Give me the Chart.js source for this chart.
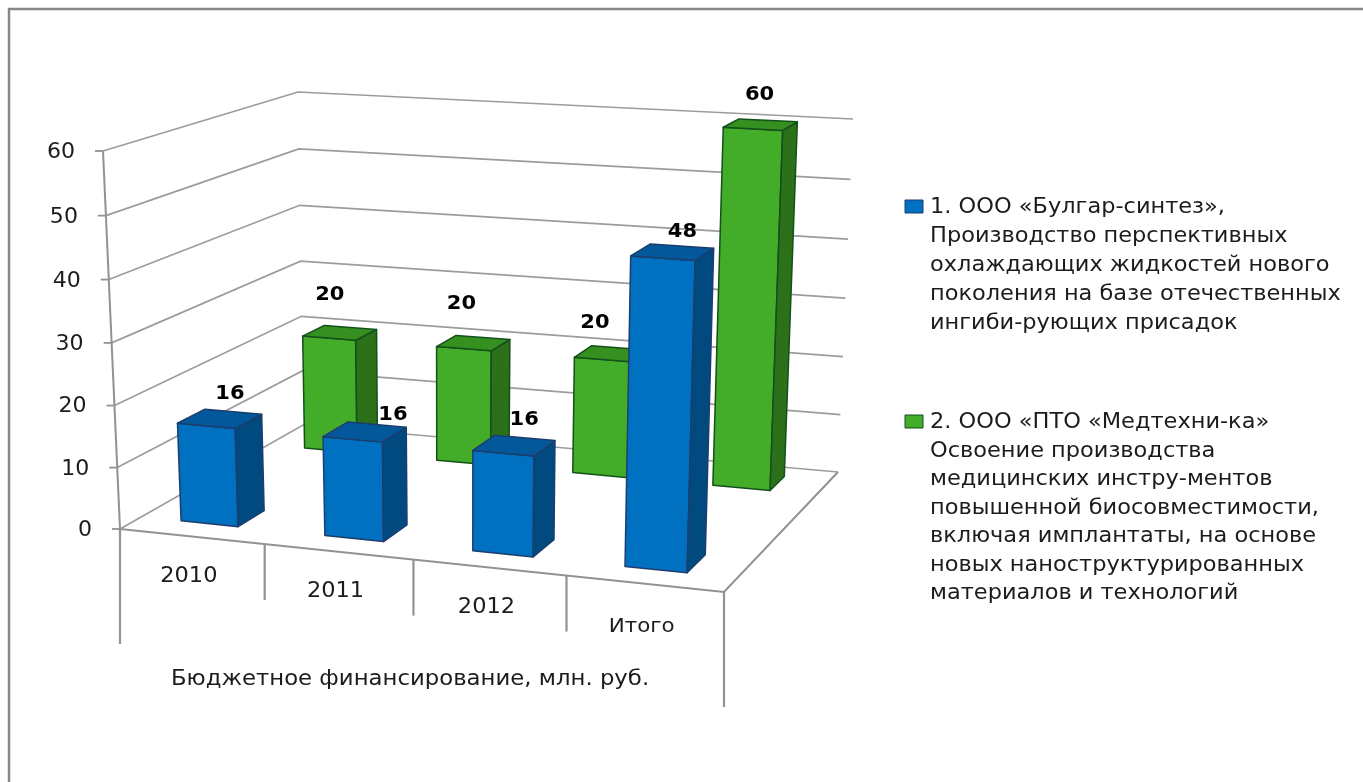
<!DOCTYPE html>
<html>
<head>
<meta charset="utf-8">
<title>Бюджетное финансирование</title>
<script src="https://cdn.jsdelivr.net/npm/chart.js@4"></script>
<style>
  html, body { margin: 0; padding: 0; background: #fff; }
  #wrap { width: 1363px; height: 782px; position: relative; }
</style>
</head>
<body>
<div id="wrap"><canvas id="budgetChart" width="1363" height="782"></canvas></div>
<script>
const categories = ['2010', '2011', '2012', 'Итого'];
const bulgarValues = [16, 16, 16, 48];
const medtechValues = [20, 20, 20, 60];
const axisTitle = 'Бюджетное финансирование, млн. руб.';
const bulgarLegend = [
  '1. ООО «Булгар-синтез»,',
  'Производство перспективных',
  'охлаждающих жидкостей нового',
  'поколения на базе отечественных',
  'ингиби-рующих присадок'
];
const medtechLegend = [
  '2. ООО «ПТО «Медтехни-ка»',
  'Освоение производства',
  'медицинских инстру-ментов',
  'повышенной биосовместимости,',
  'включая имплантаты, на основе',
  'новых наноструктурированных',
  'материалов и технологий'
];

const FONT = '"DejaVu Sans", Verdana, sans-serif';
const GRID = '#9c9c9c';
const AXIS = '#929292';
const TEXT = '#1c1c1c';
const STRETCH = 1.07; // the picture's text is wider than the font
const BAR_SHIFT = -0.005;

// box of the 3d plot on the page: [x, y, weight], weight gives the perspective
const box = {
  frontLeft0: [120, 529, 1], frontRight0: [724, 592, 0.945],
  backLeft0: [303, 425, 1.135], backRight0: [838, 472, 1.07],
  frontLeft1: [103, 151, 0.97], frontRight1: [736, 192, 0.917],
  backLeft1: [298, 92, 1.1], backRight1: [853, 119, 1.038]
};

// u along categories, v up the value axis, w into the picture, all 0..1
function project(u, v, w) {
  const corners = [
    [box.frontLeft0, (1 - u) * (1 - v) * (1 - w)],
    [box.frontRight0, u * (1 - v) * (1 - w)],
    [box.backLeft0, (1 - u) * (1 - v) * w],
    [box.backRight0, u * (1 - v) * w],
    [box.frontLeft1, (1 - u) * v * (1 - w)],
    [box.frontRight1, u * v * (1 - w)],
    [box.backLeft1, (1 - u) * v * w],
    [box.backRight1, u * v * w]
  ];
  let x = 0, y = 0, sum = 0;
  corners.forEach(([c, k]) => {
    x += c[0] * c[2] * k;
    y += c[1] * c[2] * k;
    sum += c[2] * k;
  });
  return [x / sum, y / sum];
}

function line(ctx, pts, color, width) {
  ctx.beginPath();
  pts.forEach((p, i) => i ? ctx.lineTo(p[0], p[1]) : ctx.moveTo(p[0], p[1]));
  ctx.strokeStyle = color;
  ctx.lineWidth = width;
  ctx.stroke();
}

function face(ctx, pts, fill, edge) {
  ctx.beginPath();
  pts.forEach((p, i) => i ? ctx.lineTo(p[0], p[1]) : ctx.moveTo(p[0], p[1]));
  ctx.closePath();
  ctx.fillStyle = fill;
  ctx.fill();
  ctx.strokeStyle = edge;
  ctx.lineWidth = 1.5;
  ctx.lineJoin = 'round';
  ctx.stroke();
}

function wideText(ctx, text, x, y, stretch) {
  ctx.save();
  ctx.translate(x, y);
  ctx.scale(stretch, 1);
  ctx.fillText(text, 0, 0);
  ctx.restore();
}

// depth of each row on the floor, colours of the faces, nudges of the value labels
const rows = [
  { depth: [0.105, 0.245], front: '#0070c0', top: '#02589a', side: '#014a80', edge: '#1c3d6e',
    nudge: [[10, -24.5], [28, -17.5], [10, -25.5], [10, -20]] },
  { depth: [0.79, 0.92], front: '#43ad2a', top: '#35901f', side: '#2c7019', edge: '#14501a',
    nudge: [[-10, -38], [-12, -39.5], [-16, -30.5], [-1, -30]] }
];

const plot3d = {
  id: 'plot3d',
  beforeDraw: (chart) => {
    const { ctx, scales: { x, y } } = chart;
    ctx.save();
    line(ctx, [[9, 782], [9, 9], [1363, 9]], '#868686', 2.5);

    // walls, floor and the value axis labels
    ctx.fillStyle = TEXT;
    ctx.textBaseline = 'middle';
    y.ticks.forEach(t => {
      const v = (y.bottom - y.getPixelForValue(t.value)) / y.height;
      const a = project(0, v, 0);
      line(ctx, [a, project(0, v, 1), project(1, v, 1)], GRID, 1.7);
      line(ctx, [[a[0] - 8, a[1]], a], AXIS, 1.8);
      ctx.font = '21px ' + FONT;
      ctx.textAlign = 'right';
      wideText(ctx, t.label, a[0] - 28, a[1] + 1.5, 1.05);
    });
    line(ctx, [project(0, 0, 0), project(0, 1, 0)], AXIS, 2);
    line(ctx, [project(0, 0, 0), project(1, 0, 0), project(1, 0, 1)], AXIS, 2);

    // category labels and separators under the front edge
    ctx.textAlign = 'center';
    categories.forEach((c, i) => {
      const u = (x.getPixelForValue(i) - x.left) / x.width;
      const p = project(u, 0, 0);
      ctx.font = (i === 3 ? '20px ' : '21px ') + FONT;
      wideText(ctx, c, p[0] - 3, p[1] + (i === 3 ? 43 : 40), STRETCH);
    });
    for (let i = 0; i <= categories.length; i++) {
      const p = project(i / categories.length, 0, 0);
      const long = i === 0 || i === categories.length;
      line(ctx, [p, [p[0], p[1] + (long ? 115 : 56)]], AXIS, 2.2);
    }
    ctx.font = '21px ' + FONT;
    wideText(ctx, axisTitle, 410, 680, 1.085);
    ctx.restore();
  },
  beforeDatasetsDraw: (chart) => {
    const { ctx, scales: { x, y } } = chart;
    const labels = [];
    ctx.save();
    // back row first, the blue one stands in front of it
    [1, 0].forEach(d => {
      const row = rows[d];
      chart.getDatasetMeta(d).data.forEach((bar, i) => {
        const u0 = (bar.x - bar.width / 2 - x.left) / x.width + BAR_SHIFT;
        const u1 = (bar.x + bar.width / 2 - x.left) / x.width + BAR_SHIFT;
        const v = (y.bottom - bar.y) / y.height;
        const [w0, w1] = row.depth;
        const fb = project(u1, 0, w0), ft = project(u1, v, w0);
        face(ctx, [project(u0, 0, w0), fb, ft, project(u0, v, w0)], row.front, row.edge);
        face(ctx, [fb, project(u1, 0, w1), project(u1, v, w1), ft], row.side, row.edge);
        face(ctx, [project(u0, v, w0), ft, project(u1, v, w1), project(u0, v, w1)], row.top, row.edge);
        const c = project((u0 + u1) / 2, v, (w0 + w1) / 2);
        labels.push([chart.data.datasets[d].data[i], c[0] + row.nudge[i][0], c[1] + row.nudge[i][1]]);
      });
    });
    ctx.font = 'bold 20px ' + FONT;
    ctx.fillStyle = '#000';
    ctx.textAlign = 'center';
    ctx.textBaseline = 'middle';
    labels.forEach(l => wideText(ctx, l[0], l[1], l[2], 1.05));

    // legend
    ctx.textAlign = 'left';
    ctx.textBaseline = 'alphabetic';
    ctx.font = '21px ' + FONT;
    [[bulgarLegend, 213, 29, 0], [medtechLegend, 428, 28.5, 1]].forEach(([text, top, step, d]) => {
      ctx.fillStyle = rows[d].front;
      ctx.strokeStyle = rows[d].edge;
      ctx.lineWidth = 1;
      ctx.fillRect(905, top - 13, 18, 13);
      ctx.strokeRect(905, top - 13, 18, 13);
      ctx.fillStyle = TEXT;
      text.forEach((t, i) => wideText(ctx, t, 930, top + i * step, STRETCH));
    });
    ctx.restore();
    return false; // bars are already drawn in 3d
  }
};

new Chart(document.getElementById('budgetChart'), {
  type: 'bar',
  data: {
    labels: categories,
    datasets: [
      { label: bulgarLegend[0], data: bulgarValues, backgroundColor: '#0070c0' },
      { label: medtechLegend[0], data: medtechValues, backgroundColor: '#43ad2a' }
    ]
  },
  plugins: [plot3d],
  options: {
    responsive: false,
    animation: false,
    layout: { padding: { top: 151, bottom: 253, right: 639, left: 0 } },
    datasets: { bar: { grouped: false, categoryPercentage: 1, barPercentage: 0.4 } },
    plugins: { legend: { display: false }, tooltip: { enabled: false } },
    scales: {
      x: { display: false },
      y: {
        min: 0,
        max: 60,
        afterFit: (s) => { s.width = 120; },
        border: { display: false },
        grid: { display: false, drawTicks: false },
        ticks: { stepSize: 10, display: false }
      }
    }
  }
});
</script>
</body>
</html>
